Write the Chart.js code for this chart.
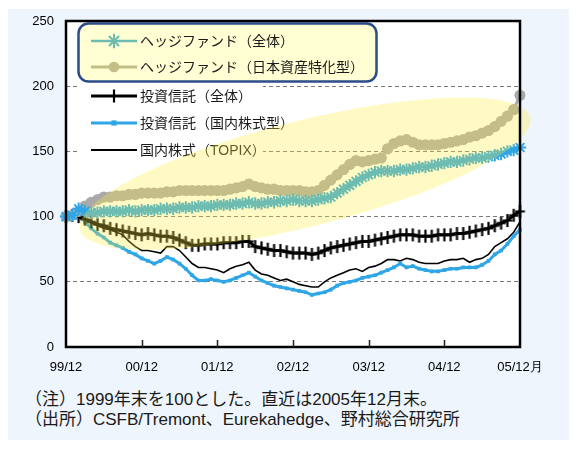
<!DOCTYPE html>
<html><head><meta charset="utf-8">
<script src="https://cdn.jsdelivr.net/npm/chart.js@4.4.1/dist/chart.umd.min.js"></script>
<style>
html,body{margin:0;padding:0;background:#fff;}
#wrap{position:relative;width:580px;height:451px;overflow:hidden;}
#panel{position:absolute;left:8px;top:9px;width:561px;height:431px;background:#eef5fc;}
#box{position:absolute;left:0;top:0;width:580px;height:390px;}
.note{position:absolute;left:25px;font-size:17px;line-height:20px;font-family:"Liberation Sans","Noto Sans CJK JP",sans-serif;color:#1a1a1a;white-space:nowrap;}
</style></head><body>
<div id="wrap">
<div id="panel"></div>
<div id="box"><canvas id="cv" width="580" height="390"></canvas></div>
<div class="note" style="top:390px">（注）1999年末を100とした。直近は2005年12月末。</div>
<div class="note" style="top:410px">（出所）CSFB/Tremont、Eurekahedge、野村総合研究所</div>
</div>
<script>
// ---- data ----
const seriesNames = ['ヘッジファンド（全体）','ヘッジファンド（日本資産特化型）','投資信託（全体）','投資信託（国内株式型）','国内株式（TOPIX）'];
const tickLabels = ['99/12','00/12','01/12','02/12','03/12','04/12','05/12月'];
const months = [];
for (let i = 0; i <= 72; i++) { const k = 11 + i; months.push((1999 + Math.floor(k / 12)) + '/' + (k % 12 + 1)); }

const hfAll = [100,101,106,104,103,103,104,104,104,104,105,104,105,
  105,105,106,106,106,107,107,107,108,108,108,109,
  109,109,110,110,111,110,110,111,111,112,112,113,
  112,112,112,113,114,115,118,121,124,127,130,132,
  134,135,135,135,136,136,137,138,138,139,140,141,
  142,142,143,144,145,145,146,147,148,150,151,153];
const hfJapan = [100,101,104,108,111,113,115,115,116,116,117,117,118,
  118,118,118,119,119,120,120,120,120,120,120,120,
  120,121,122,123,125,123,122,121,121,120,120,120,
  120,119,119,120,124,128,132,136,140,143,142,143,
  144,145,152,156,158,159,157,155,155,155,155,156,
  157,158,159,161,162,164,166,169,173,177,182,193];
const itAll = [100,101,100,98,96,94,93,91,90,89,88,87,86,
  87,86,85,85,84,82,80,78,78,79,79,79,
  80,80,80,81,81,77,76,75,74,74,73,72,
  72,72,71,72,74,76,77,78,79,80,81,81,
  82,83,84,85,86,86,86,85,85,85,86,86,
  86,87,87,88,89,90,91,93,95,97,101,104];
const itDomestic = [100,99,101,96,91,87,84,80,78,76,73,71,68,
  66,64,66,69,67,64,60,55,51,51,52,51,
  50,51,53,55,57,54,51,49,47,46,45,44,
  43,42,40,41,42,44,47,49,50,51,53,54,
  55,57,59,61,64,61,62,60,59,58,58,59,
  60,60,61,61,61,63,66,71,74,79,85,90];
const topix = [100,100,101,98,95,93,91,90,88,86,81,77,74,
  74,73,72,77,77,74,69,64,61,61,60,59,
  57,60,62,63,65,59,56,55,53,51,52,50,
  48,47,46,46,50,53,55,57,59,60,58,61,
  62,64,67,67,66,68,67,65,64,64,64,66,
  67,67,68,65,67,68,71,77,80,83,88,96];
const yTicks = [0,50,100,150,200,250];

// ---- styles ----
const BLUE = '#2fa6e6';
const GRAY = '#a9a9a9';
const BLACK = '#000000';
const YEL = [255,238,55], YEL_A = 0.3;
function hexRgb(h){ h=h.replace('#',''); return [0,2,4].map(i=>parseInt(h.substr(i,2),16)); }
function tint(h, a){ const c=hexRgb(h); return 'rgb('+c.map((v,i)=>Math.round(v*(1-a)+YEL[i]*a)).join(',')+')'; }

const styles = [
  {color: BLUE, pointStyle:'star', radius:6.2, pbw:2, bw:2.5, lr:1.15},
  {color: GRAY, pointStyle:'circle', radius:5.6, pbw:0, bw:3, lr:0.95},
  {color: BLACK, pointStyle:'cross', radius:6.5, pbw:2.2, bw:3, lr:1.0},
  {color: BLUE, pointStyle:'rect', radius:2.6, pbw:0, bw:3, lr:1.0},
  {color: BLACK, pointStyle:false, radius:0, pbw:0, bw:1.6, lr:1}
];
const values = [hfAll, hfJapan, itAll, itDomestic, topix];

// custom '+' with taller vertical bar for the investment-trust series
function plusCanvas(r, lw, col){
  const c = document.createElement('canvas'); const s = Math.ceil(r*2 + 4);
  c.width = s; c.height = s; const g = c.getContext('2d');
  g.strokeStyle = col; g.lineWidth = lw; g.beginPath();
  g.moveTo(s/2 - r*0.75, s/2); g.lineTo(s/2 + r*0.75, s/2);
  g.moveTo(s/2, s/2 - r); g.lineTo(s/2, s/2 + r); g.stroke();
  return c;
}

const datasets = values.map((v, i) => ({
  label: seriesNames[i], data: v,
  borderColor: styles[i].color, backgroundColor: styles[i].color,
  pointBorderColor: styles[i].color, pointBackgroundColor: styles[i].color,
  borderWidth: styles[i].bw,
  pointStyle: styles[i].pointStyle === 'cross' ? plusCanvas(styles[i].radius, styles[i].pbw, styles[i].color) : (styles[i].pointStyle || 'circle'),
  pointRadius: styles[i].radius, pointHoverRadius: styles[i].radius,
  pointBorderWidth: styles[i].pbw, tension: 0, fill: false
}));

function drawMarker(ctx, st, col, x, y, scale){
  const r = st.radius * scale;
  ctx.save();
  ctx.strokeStyle = col; ctx.fillStyle = col; ctx.lineWidth = st.pbw;
  if (st.pointStyle === 'star') {
    ctx.beginPath();
    for (let k = 0; k < 4; k++) { const a = k * Math.PI / 4; ctx.moveTo(x - r*Math.cos(a), y - r*Math.sin(a)); ctx.lineTo(x + r*Math.cos(a), y + r*Math.sin(a)); }
    ctx.stroke();
  } else if (st.pointStyle === 'circle') {
    ctx.beginPath(); ctx.arc(x, y, r, 0, Math.PI*2); ctx.fill();
  } else if (st.pointStyle === 'cross') {
    ctx.beginPath(); ctx.moveTo(x - r*0.9, y); ctx.lineTo(x + r*0.9, y); ctx.moveTo(x, y - r); ctx.lineTo(x, y + r); ctx.stroke();
  } else if (st.pointStyle === 'rect') {
    ctx.fillRect(x - r, y - r, 2*r, 2*r);
  }
  ctx.restore();
}
function legendRow(ctx, i, y, col){
  const st = styles[i];
  ctx.save();
  ctx.strokeStyle = col; ctx.lineWidth = Math.max(2, st.bw);
  ctx.beginPath(); ctx.moveTo(91, y); ctx.lineTo(137, y); ctx.stroke();
  drawMarker(ctx, st, col, 114, y, st.lr);
  ctx.fillStyle = '#1a1a1a';
  ctx.font = '14px "Liberation Sans","Noto Sans CJK JP",sans-serif';
  ctx.textBaseline = 'middle'; ctx.textAlign = 'left';
  ctx.fillText(seriesNames[i], 140, y + 1);
  ctx.restore();
}

// highlight ellipse defined in data space (month index, value)
const ellipseEnds = [[2.2, 90], [73.6, 176]];
const ellipseHalfWidth = 53;

const decor = {
  id: 'decor',
  beforeDraw(chart){
    const {ctx, chartArea:a} = chart;
    ctx.save(); ctx.fillStyle = '#fff';
    ctx.fillRect(a.left, a.top, a.right - a.left, a.bottom - a.top); ctx.restore();
  },
  afterDatasetsDraw(chart){
    const {ctx, chartArea:a, scales:{x, y}} = chart;
    ctx.save();
    ctx.fillStyle = '#fff'; ctx.fillRect(79, 83, 184, 78);
    legendRow(ctx, 2, 96, styles[2].color);
    legendRow(ctx, 3, 123, styles[3].color);
    legendRow(ctx, 4, 150, styles[4].color);
    const x1 = x.getPixelForValue(ellipseEnds[0][0]), y1 = y.getPixelForValue(ellipseEnds[0][1]);
    const x2 = x.getPixelForValue(ellipseEnds[1][0]), y2 = y.getPixelForValue(ellipseEnds[1][1]);
    const cx = (x1 + x2)/2, cy = (y1 + y2)/2;
    const semi = Math.hypot(x2 - x1, y2 - y1)/2, ang = Math.atan2(y2 - y1, x2 - x1);
    ctx.beginPath(); ctx.ellipse(cx, cy, semi, ellipseHalfWidth, ang, 0, Math.PI*2);
    ctx.fillStyle = 'rgba(' + YEL.join(',') + ',' + YEL_A + ')'; ctx.fill();
    ctx.beginPath(); ctx.roundRect(78.5, 23.5, 298, 58, 10);
    ctx.fillStyle = '#ffffd3'; ctx.fill();
    ctx.lineWidth = 2.5; ctx.strokeStyle = '#2c4d8c'; ctx.stroke();
    legendRow(ctx, 0, 41, tint(styles[0].color, 0.3));
    legendRow(ctx, 1, 67, tint(styles[1].color, 0.3));
    ctx.strokeStyle = '#000'; ctx.lineWidth = 2.5;
    ctx.strokeRect(a.left, a.top, a.right - a.left, a.bottom - a.top);
    ctx.lineWidth = 1.5; ctx.strokeStyle = '#222';
    for (let k = 1; k < tickLabels.length - 1; k++) {
      const px = Math.round(x.getPixelForValue(k*12)) + 0.5;
      ctx.beginPath(); ctx.moveTo(px, a.bottom - 7); ctx.lineTo(px, a.bottom); ctx.stroke();
    }
    ctx.restore();
  }
};

Chart.defaults.font.family = '"Liberation Sans", Arial, sans-serif';
Chart.defaults.font.size = 13;
Chart.defaults.color = '#000';

new Chart(document.getElementById('cv'), {
  type: 'line',
  data: { labels: months, datasets },
  options: {
    responsive: false, animation: false, events: [],
    layout: { autoPadding: false, padding: { left: 0, right: 60, top: 21, bottom: 0 } },
    plugins: { legend: { display: false }, tooltip: { enabled: false } },
    scales: {
      x: {
        type: 'category', offset: false,
        grid: { display: false, drawTicks: false },
        border: { display: false },
        ticks: { autoSkip: false, maxRotation: 0, padding: 13, color: '#000',
          callback: (v, i) => (i % 12 === 0 ? tickLabels[i / 12] : '') },
        afterFit: s => { s.height = 43; }
      },
      y: {
        min: 0, max: 250,
        afterBuildTicks: s => { s.ticks = yTicks.map(v => ({ value: v })); },
        grid: { drawTicks: false, lineWidth: 1,
          color: c => (c.tick && (c.tick.value === 0 || c.tick.value === 250)) ? 'rgba(0,0,0,0)' : '#7a7a7a' },
        border: { display: false, dash: [4, 3] },
        ticks: { padding: 12, color: '#000' },
        afterFit: s => { s.width = 66; }
      }
    }
  },
  plugins: [decor]
});
</script>
</body></html>
